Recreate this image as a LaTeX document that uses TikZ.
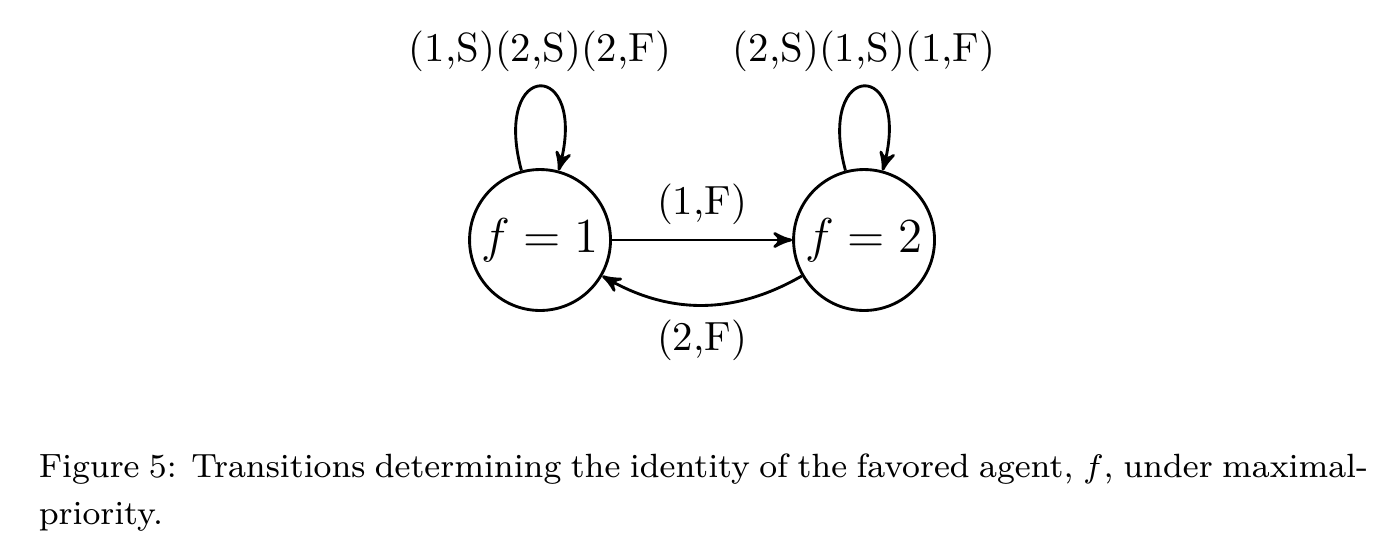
\documentclass[tikz,border=0pt]{standalone}
\usepackage{amsmath}
\usepackage{tikz}
\usetikzlibrary{arrows}
\tikzset{
    fav_node/.style = {circle, draw=black, line width=0.7pt, minimum size=1.215cm, inner sep=0pt, align=center, font=\large},
    trans/.style = {->, line width=0.7pt},
    cap_text/.style = {inner sep=0pt, anchor=base west, text width=326pt, align=justify, font=\fontsize{8.25}{11.5}\selectfont}
}

\begin{document}
\begin{tikzpicture}
            [>=stealth',
            every loop/.style={min distance=10mm}]

            \useasboundingbox (0,0) rectangle (11.93,-4.757);

            \node [fav_node] (f1) at (4.655,-2.069) {$f=1$};
            \node [fav_node] (f2) at (7.448,-2.069) {$f=2$};

            \draw [trans] (f1) to [loop above] node [above] {(1,S)(2,S)(2,F)} (f1);
            \draw [trans] (f2) to [loop above] node [above] {(2,S)(1,S)(1,F)} (f2);
            \draw [trans] (f1) -- node [above] {(1,F)} (f2);
            \draw [trans] (f2) to [bend left=30] node [below] {(2,F)} (f1);

            \node [cap_text] (cap) at (0.3276,-4.120)
                {Figure 5: Transitions determining the identity of the favored agent, $f$, under maximal-\linebreak priority.};
\end{tikzpicture}
\end{document}
